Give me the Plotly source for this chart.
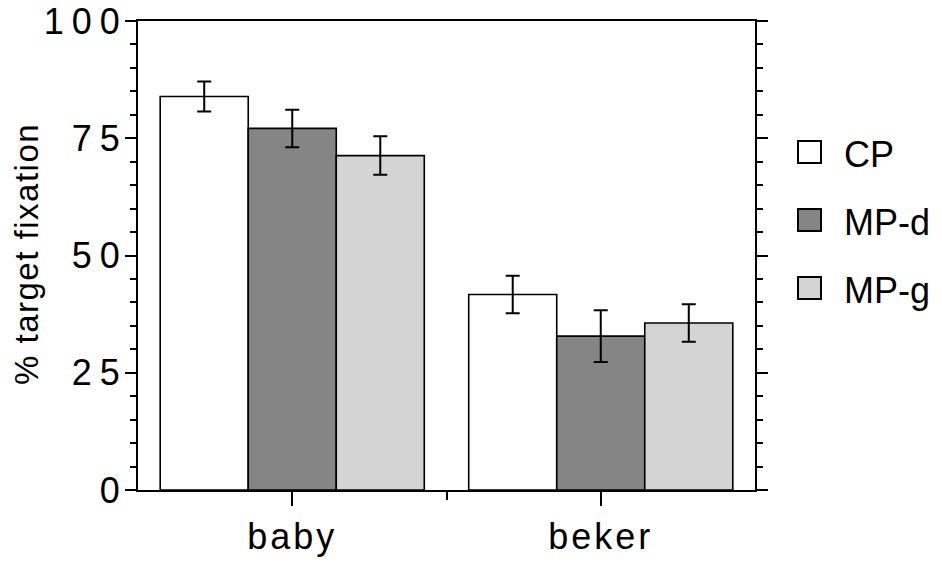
import plotly.graph_objects as go

categories = ["baby", "beker"]
series_names = ["CP", "MP-d", "MP-g"]
cp_values = [83.9, 41.7]
mpd_values = [77.1, 32.8]
mpg_values = [71.3, 35.6]
cp_err = [3.2, 4.0]
mpd_err = [4.0, 5.5]
mpg_err = [4.1, 4.0]
series_colors = ["#ffffff", "#858585", "#d4d4d4"]
y_tick_values = [0, 25, 50, 75, 100]
y_tick_labels = ["0", "25", "50", "75", "100"]

values = [cp_values, mpd_values, mpg_values]
errors = [cp_err, mpd_err, mpg_err]

FONT = "Liberation Sans, Arial, sans-serif"

fig = go.Figure()
xpos = list(range(len(categories)))
for name, vals, errs, col in zip(series_names, values, errors, series_colors):
    fig.add_trace(go.Bar(
        x=xpos, y=vals, name=name,
        marker=dict(color=col, line=dict(color="black", width=1.6)),
        error_y=dict(type="data", array=errs, visible=True, color="black",
                     thickness=2, width=7),
        showlegend=False,
    ))

# Legend drawn manually (large square swatches)
W, H = 617, 469
leg_top = 152
leg_step = 68
for i, (name, col) in enumerate(zip(series_names, series_colors)):
    cy = leg_top + i * leg_step
    fig.add_shape(type="rect", xref="paper", yref="paper",
                  x0=(798 - 138) / W, x1=(821 - 138) / W,
                  y0=(490 - (cy + 11)) / H, y1=(490 - (cy - 11)) / H,
                  fillcolor=col, line=dict(color="black", width=2))
    fig.add_annotation(xref="paper", yref="paper", x=(842 - 138) / W,
                       y=(490 - cy - 2) / H, text=name, showarrow=False,
                       xanchor="left", yanchor="middle",
                       font=dict(family=FONT, size=36, color="black"))

# y-axis title placed as annotation
fig.add_annotation(xref="paper", yref="paper", x=(26 - 138) / W, y=(490 - 254) / H,
                   text='<span style="letter-spacing:1.5px">% target fixation</span>',
                   textangle=-90, showarrow=False, xanchor="center", yanchor="middle",
                   font=dict(family=FONT, size=33, color="black"))

fig.update_layout(
    width=942, height=562,
    margin=dict(l=138, r=187, t=21, b=72),
    paper_bgcolor="white", plot_bgcolor="white",
    barmode="group", bargap=0.144, bargroupgap=0,
    font=dict(family=FONT, color="black"),
    xaxis=dict(
        range=[-0.5, 1.5], tickmode="array", tickvals=xpos,
        ticktext=['<span style="letter-spacing:3px">%s</span>' % c for c in categories],
        ticks="outside", ticklen=14, tickwidth=2, tickcolor="black",
        showline=True, linewidth=2, linecolor="black", mirror=True,
        showgrid=False, zeroline=False, automargin=False,
        ticklabeloverflow="allow",
        tickfont=dict(family=FONT, size=36, color="black"),
        minor=dict(tickmode="array", tickvals=[0.5], ticks="outside",
                   ticklen=8, tickwidth=2, tickcolor="black", showgrid=False),
    ),
    yaxis=dict(
        range=[0, 100], tickmode="array", tickvals=y_tick_values,
        ticktext=['<span style="letter-spacing:8px">%s</span>' % t for t in y_tick_labels],
        ticks="outside", ticklen=11, tickwidth=2, tickcolor="black",
        showline=True, linewidth=2, linecolor="black", mirror="ticks",
        showgrid=False, zeroline=False, automargin=False,
        ticklabeloverflow="allow", ticklabelstandoff=-10,
        tickfont=dict(family=FONT, size=36, color="black"),
        minor=dict(dtick=5, tick0=0, ticks="outside", ticklen=6, tickwidth=2,
                   tickcolor="black", showgrid=False),
    ),
)

# remove the default 8px page margin so the figure fills the window exactly
fig.write_html("out.html", config={"displayModeBar": False},
               post_script="document.body.style.margin='0';document.body.style.overflow='hidden';")
